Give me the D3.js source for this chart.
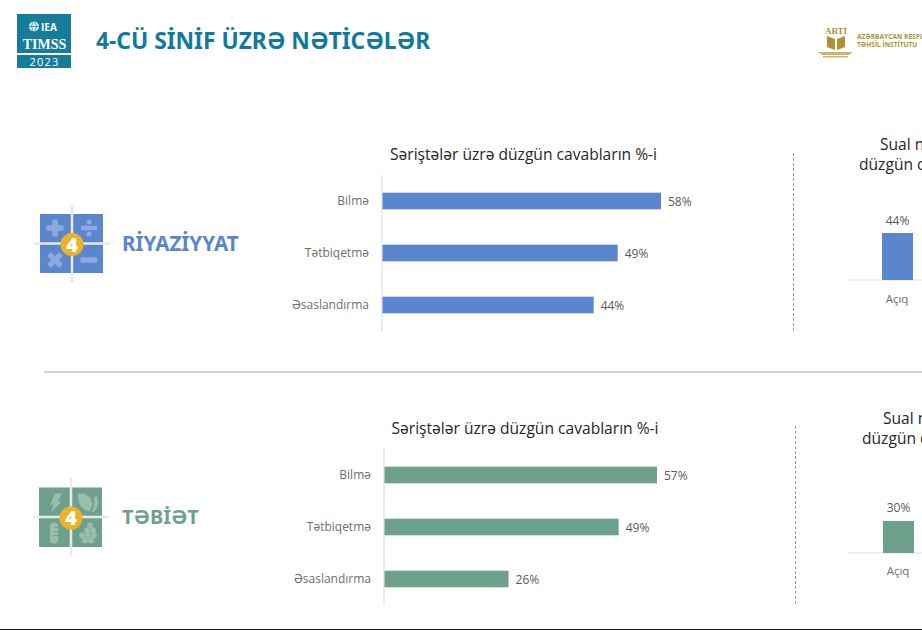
<!DOCTYPE html>
<html lang="az">
<head>
<meta charset="utf-8">
<script src="https://cdn.jsdelivr.net/npm/d3@7"></script>
<style>
html,body{margin:0;padding:0;background:#fff;overflow:hidden}
svg{display:block}
text{font-family:"Open Sans","Noto Sans",sans-serif}
</style>
</head>
<body>
<svg id="chart" width="922" height="630"></svg>
<script>
// Skill categories and percent-correct values per subject
const skills = ["Bilmə", "Tətbiqetmə", "Əsaslandırma"];
const mathSkillValues = [58, 49, 44];
const scienceSkillValues = [57, 49, 26];
const mathFormatLabels = ["Açıq"];
const mathFormatValues = [44];
const scienceFormatLabels = ["Açıq"];
const scienceFormatValues = [30];

const pageTitle = "4-CÜ SİNİF ÜZRƏ NƏTİCƏLƏR";
const skillTitle = "Səriştələr üzrə düzgün cavabların %-i";
const formatTitleLines = ["Sual növləri üzrə", "düzgün cavabların %-i"];

const BLUE = "#5b86cd", GREEN = "#6ea18c", TEAL = "#0f7a9a", GOLD = "#ad9334", AMBER = "#edb325";
const GREY = "#595959", CATEGORY_GREY = "#6e6e6e";

const svg = d3.select("#chart");

// Page header: programme badge, title and institute mark
const badge = svg.append("g");
badge.append("rect").attr("x", 17).attr("y", 14).attr("width", 54).attr("height", 54).attr("fill", "#157c9c");
badge.append("rect").attr("x", 17).attr("y", 53).attr("width", 54).attr("height", 2).attr("fill", "#fff");
badge.append("circle").attr("cx", 34).attr("cy", 26.5).attr("r", 5).attr("fill", "#dfeef3");
badge.append("path").attr("d", "M29 26.5h10M34 21.5c-3 3-3 7 0 10M34 21.5c3 3 3 7 0 10")
  .attr("fill", "none").attr("stroke", "#157c9c").attr("stroke-width", 0.7);
badge.append("text").attr("x", 41).attr("y", 30.5).attr("font-size", 10).attr("font-weight", 700).attr("fill", "#fff").text("IEA");
badge.append("text").attr("x", 44.5).attr("y", 49).attr("text-anchor", "middle").attr("font-size", 14)
  .attr("font-weight", 700).style("font-family", "'Liberation Serif',serif").attr("fill", "#fff").text("TIMSS");
badge.append("text").attr("x", 44.5).attr("y", 66).attr("text-anchor", "middle").attr("font-size", 11)
  .attr("letter-spacing", 1.2).attr("fill", "#fff").text("2023");

svg.append("text").attr("x", 96).attr("y", 49).attr("font-size", 22.8).attr("font-weight", 700)
  .style("font-family", "'Noto Sans',sans-serif").attr("fill", TEAL).text(pageTitle);

const mark = svg.append("g");
mark.append("text").attr("x", 836).attr("y", 34).attr("text-anchor", "middle").attr("font-size", 9)
  .attr("font-weight", 700).style("font-family", "'Liberation Serif',serif").attr("fill", GOLD).text("ARTİ");
mark.append("path").attr("d", "M827 36l8 3v11l-8-3zM845 36l-8 3v11l8-3z").attr("fill", GOLD);
mark.append("path").attr("d", "M818 52h35l-4 3h-27zM823 56h25v1.5h-25z").attr("fill", "#c9b56c");
mark.append("text").attr("x", 857).attr("y", 38.5).attr("font-size", 6.6).attr("font-weight", 700)
  .attr("fill", GOLD).text("AZƏRBAYCAN RESPUBLİKASININ");
mark.append("text").attr("x", 857).attr("y", 46.5).attr("font-size", 6.6).attr("font-weight", 700)
  .attr("fill", GOLD).text("TƏHSİL İNSTİTUTU");

// Divider between the two subjects and the bottom rule
svg.append("line").attr("x1", 44).attr("x2", 922).attr("y1", 372).attr("y2", 372).attr("stroke", "#a6a6a6");
svg.append("line").attr("x1", 0).attr("x2", 922).attr("y1", 629.5).attr("y2", 629.5).attr("stroke", "#222");

// Square subject icon with a numbered badge in the centre
function drawIcon(x, y, h, color, glyphs) {
  const g = svg.append("g").attr("transform", `translate(${x},${y})`);
  g.append("rect").attr("width", 63).attr("height", h).attr("fill", color);
  glyphs(g);
  g.append("line").attr("x1", 32).attr("x2", 32).attr("y1", -9).attr("y2", h + 9).attr("stroke", "#e9e9e9").attr("stroke-width", 2.5);
  g.append("line").attr("x1", -6).attr("x2", 70).attr("y1", 29.5).attr("y2", 29.5).attr("stroke", "#e9e9e9").attr("stroke-width", 2.5);
  g.append("circle").attr("cx", 32).attr("cy", 30.5).attr("r", 11.5).attr("fill", AMBER);
  g.append("text").attr("x", 32).attr("y", 37.5).attr("text-anchor", "middle").attr("font-size", 20)
    .attr("font-weight", 800).attr("fill", "#fff").text("4");
}

const tint = c => d3.interpolateRgb(c, "#fff")(0.3);

function mathGlyphs(g) {
  const c = tint(BLUE);
  const bar = (cx, cy, w, h, rot) => g.append("rect").attr("x", cx - w / 2).attr("y", cy - h / 2)
    .attr("width", w).attr("height", h).attr("rx", 1).attr("fill", c)
    .attr("transform", `rotate(${rot} ${cx} ${cy})`);
  bar(15, 14, 17, 5.5, 0); bar(15, 14, 17, 5.5, 90);
  bar(49, 14, 16, 4.5, 0);
  g.append("circle").attr("cx", 49).attr("cy", 8).attr("r", 2.5).attr("fill", c);
  g.append("circle").attr("cx", 49).attr("cy", 20).attr("r", 2.5).attr("fill", c);
  bar(15, 46, 17, 5.5, 45); bar(15, 46, 17, 5.5, -45);
  bar(49, 46, 17, 5.5, 0);
}

function scienceGlyphs(g) {
  const c = tint(GREEN);
  g.append("path").attr("d", "M16 6.3L22.7 5.7L18.7 14.7L22.7 13.7L12.7 24.7L14.3 16.3L11 18Z").attr("fill", c);
  g.append("path").attr("d", "M39 6c8 0 13 3 14 8 1 3-1 7-3 10-6-1-12-8-11-18z").attr("fill", c);
  g.append("path").attr("d", "M58 8c-2 1-3 2-3 4 1 4 0 9-3 13 5-1 7-5 7-10z").attr("fill", c);
  g.append("rect").attr("x", 11).attr("y", 35).attr("width", 8).attr("height", 21).attr("rx", 4).attr("fill", c);
  g.append("path").attr("d", "M15 40h4M15 44h4M15 48h4").attr("stroke", GREEN).attr("stroke-width", 0.8);
  const cells = [[51,38],[48,43],[54,43],[43,48],[49,48],[55,48],[46,53],[52,53]];
  g.selectAll("circle.cell").data(cells).join("circle").attr("class", "cell")
    .attr("cx", d => d[0]).attr("cy", d => d[1]).attr("r", 2.9).attr("fill", c);
}

// Column heights share one scale: 44% is 47px tall
const formatScale = d3.scaleLinear().domain([0, 44]).range([0, 47]);

// One subject block: icon, name, skills bar chart, separator, item-format column
function drawSubject(o) {
  drawIcon(o.iconX, o.iconY, o.iconH, o.color, o.glyphs);
  svg.append("text").attr("x", o.nameX).attr("y", o.nameY).attr("font-size", o.nameSize).attr("font-weight", 700)
    .style("font-family", "'Noto Sans',sans-serif").attr("fill", o.color).text(o.name);

  svg.append("text").attr("x", o.titleX).attr("y", o.top + 7).attr("text-anchor", "middle")
    .attr("font-size", 15.6).attr("fill", "#262626").text(skillTitle);

  const x = d3.scaleLinear().domain([0, o.skillValues[0]]).range([o.axisX, o.maxX]);
  const y = d3.scaleBand().domain(skills).range([o.top + 22, o.top + 178]).paddingInner(0.68).paddingOuter(0.34);

  svg.append("line").attr("x1", o.axisX).attr("x2", o.axisX).attr("y1", o.top + 22).attr("y2", o.top + 179)
    .attr("stroke", "#d9d9d9");

  const row = svg.append("g").selectAll("g").data(skills).join("g");
  row.append("rect").attr("x", x(0) + 0.5).attr("y", d => y(d))
    .attr("width", (d, i) => x(o.skillValues[i]) - x(0) - 0.5).attr("height", y.bandwidth()).attr("fill", o.color);
  row.append("text").attr("x", o.axisX - 13).attr("y", d => y(d) + y.bandwidth() / 2 + 4)
    .attr("text-anchor", "end").attr("font-size", 12).attr("fill", CATEGORY_GREY).text(d => d);
  row.append("text").attr("x", (d, i) => x(o.skillValues[i]) + 7).attr("y", d => y(d) + y.bandwidth() / 2 + 4.5)
    .attr("font-size", 12).attr("fill", GREY).text((d, i) => o.skillValues[i] + "%");

  svg.append("line").attr("x1", o.sepX).attr("x2", o.sepX).attr("y1", o.sepTop).attr("y2", o.sepTop + 180)
    .attr("stroke", "#999").attr("stroke-dasharray", "3 2");

  // Item-format column, running off the right edge of the page
  svg.selectAll(null).data(formatTitleLines).join("text")
    .attr("x", (d, i) => o.formatTitleX[i]).attr("y", (d, i) => o.top - 3 + i * 20.3)
    .attr("font-size", 15.6).attr("fill", "#262626").text(d => d);

  svg.append("line").attr("x1", o.barX - 35).attr("x2", 922).attr("y1", o.baseY).attr("y2", o.baseY).attr("stroke", "#e0e0e0");
  o.formatValues.forEach((v, i) => {
    const h = formatScale(v);
    svg.append("rect").attr("x", o.barX).attr("y", o.baseY - h).attr("width", 31).attr("height", h).attr("fill", o.color);
    svg.append("text").attr("x", o.barX + 15.5).attr("y", o.baseY - h - 8.5).attr("text-anchor", "middle")
      .attr("font-size", 12).attr("fill", GREY).text(v + "%");
    svg.append("text").attr("x", o.barX + 15).attr("y", o.baseY + o.labelGap).attr("text-anchor", "middle")
      .attr("font-size", 11.5).attr("fill", CATEGORY_GREY).text(o.formatLabels[i]);
  });
}

drawSubject({
  name: "RİYAZİYYAT", color: BLUE, glyphs: mathGlyphs, iconX: 40, iconY: 214, iconH: 59, nameX: 122, nameY: 251, nameSize: 20.6,
  top: 153, titleX: 523.5, axisX: 382, maxX: 661, sepX: 793.5, sepTop: 153, formatTitleX: [880, 859],
  skillValues: mathSkillValues, formatValues: mathFormatValues, formatLabels: mathFormatLabels,
  barX: 882, baseY: 280, labelGap: 22.5
});

drawSubject({
  name: "TƏBİƏT", color: GREEN, glyphs: scienceGlyphs, iconX: 39, iconY: 487.5, iconH: 59.5, nameX: 122, nameY: 524, nameSize: 20,
  top: 427, titleX: 525, axisX: 384, maxX: 657, sepX: 795.5, sepTop: 426, formatTitleX: [883, 862],
  skillValues: scienceSkillValues, formatValues: scienceFormatValues, formatLabels: scienceFormatLabels,
  barX: 883, baseY: 553, labelGap: 21.5
});
</script>
</body>
</html>
